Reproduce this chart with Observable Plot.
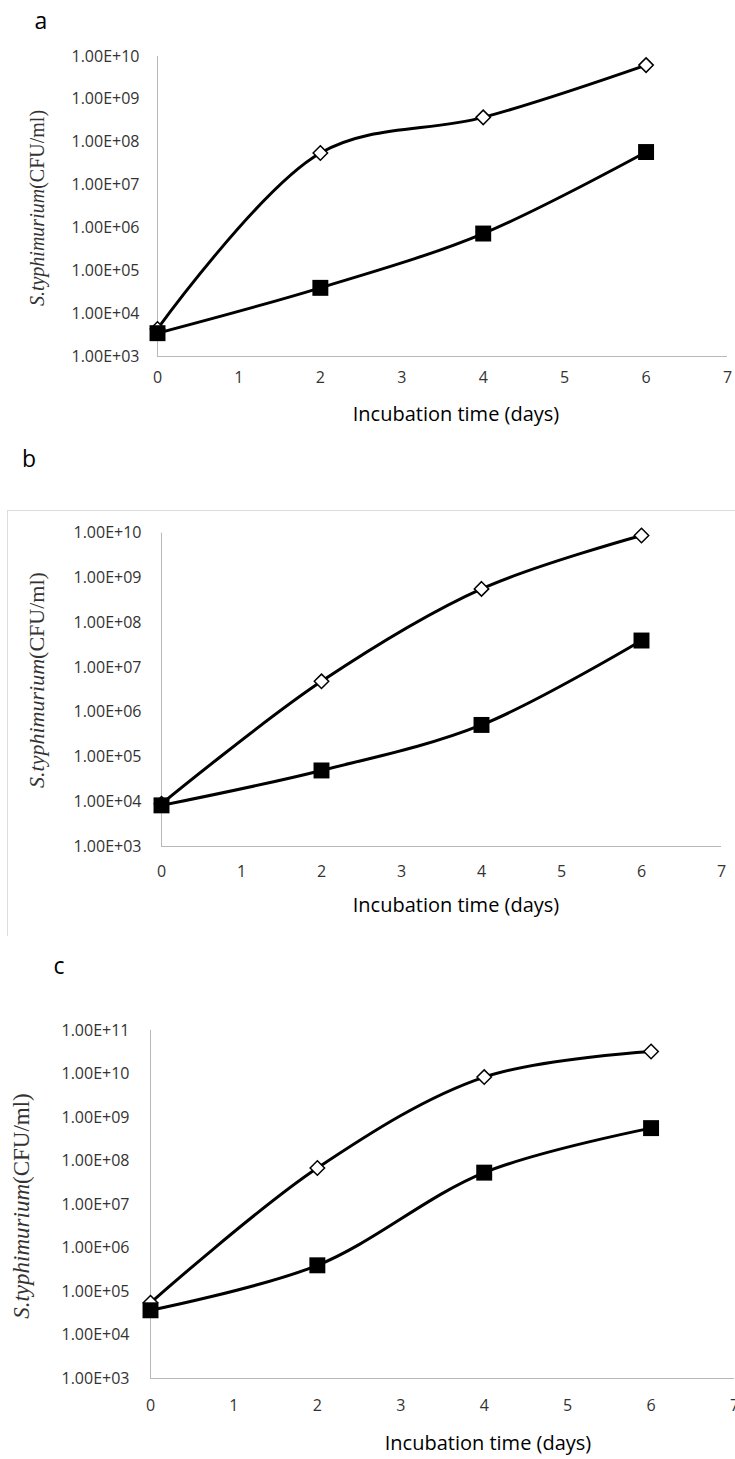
<!DOCTYPE html>
<html><head><meta charset="utf-8">
<script src="https://cdn.jsdelivr.net/npm/d3@7"></script>
<script src="https://cdn.jsdelivr.net/npm/@observablehq/plot@0.6"></script>
<style>
body{margin:0;background:#fff;}
#page{position:relative;width:735px;height:1459px;overflow:hidden;font-family:"Open Sans",Lato,sans-serif;}
.abs{position:absolute;white-space:nowrap;transform:translate(-50%,-50%);line-height:1;}
.plabel{font-size:23px;color:#000;}
.xtitle{font-size:20px;color:#000;}
.ytitle{font-family:"Liberation Serif","DejaVu Serif",serif;color:#333;transform:translate(-50%,-50%) rotate(-90deg);}
.svgwrap{position:absolute;left:0;}
.svgwrap svg text{font-family:"Open Sans",Lato,sans-serif;font-size:16px;fill:#333;}
.boxb{position:absolute;left:7px;top:510px;width:740px;height:425px;border-top:1px solid #dcdcdc;border-left:1px solid #dcdcdc;}
</style></head><body><div id="page"></div>
<script>
// x values (incubation days)
const days = [0, 2, 4, 6];
const xTicks = [0, 1, 2, 3, 4, 5, 6, 7];

// y tick values and labels
const yTicksAB = [1e3, 1e4, 1e5, 1e6, 1e7, 1e8, 1e9, 1e10];
const yLabelsAB = ["1.00E+03","1.00E+04","1.00E+05","1.00E+06","1.00E+07","1.00E+08","1.00E+09","1.00E+10"];
const yTicksC = [1e3, 1e4, 1e5, 1e6, 1e7, 1e8, 1e9, 1e10, 1e11];
const yLabelsC = ["1.00E+03","1.00E+04","1.00E+05","1.00E+06","1.00E+07","1.00E+08","1.00E+09","1.00E+10","1.00E+11"];

// series (CFU/ml), open diamond and filled square
const aDiamond = [4.4e3, 5.6e7, 3.8e8, 6.3e9];
const aSquare  = [3.5e3, 4.0e4, 7.4e5, 5.9e7];
const bDiamond = [9.0e3, 4.9e6, 5.7e8, 8.9e9];
const bSquare  = [8.3e3, 5.0e4, 5.2e5, 4.0e7];
const cDiamond = [5.5e4, 6.9e7, 8.5e9, 3.3e10];
const cSquare  = [3.7e4, 4.0e5, 5.4e7, 5.7e8];

const panelLetters = ["a", "b", "c"];
const xTitle = "Incubation time (days)";
const yTitleItalic = "S.typhimurium";
const yTitleRest = "(CFU/ml)";

const page = document.getElementById("page");

function addText(cls, text, x, y, extra) {
  const d = document.createElement("div");
  d.className = "abs " + cls;
  d.style.left = x + "px"; d.style.top = y + "px";
  if (extra) Object.assign(d.style, extra);
  if (typeof text === "string") d.textContent = text; else d.appendChild(text);
  page.appendChild(d);
  return d;
}
function yTitleNode() {
  const s = document.createElement("span");
  const i = document.createElement("i"); i.textContent = yTitleItalic;
  s.appendChild(i); s.appendChild(document.createTextNode(yTitleRest));
  return s;
}

function panel(o) {
  const rows = (vals) => days.map((d, i) => ({day: d, cfu: vals[i]}));
  const dia = rows(o.diamond), sq = rows(o.square);
  const lab = new Map(o.yTicks.map((t, i) => [t, o.yLabels[i]]));
  const svg = Plot.plot({
    width: 735, height: o.height,
    marginLeft: o.mLeft, marginRight: o.mRight, marginTop: o.mTop, marginBottom: o.mBottom,
    style: {background: "transparent", overflow: "visible"},
    x: {domain: [0, 7]},
    y: {type: "log", domain: [o.yTicks[0], o.yTicks[o.yTicks.length - 1]]},
    marks: [
      Plot.ruleX([0], {stroke: "#b8b8b8", strokeWidth: 1}),
      Plot.ruleY([o.yTicks[0]], {stroke: "#b8b8b8", strokeWidth: 1}),
      Plot.axisX({ticks: xTicks, tickFormat: d => String(d), tickSize: 0, tickPadding: o.xPad, label: null}),
      Plot.axisY({ticks: o.yTicks, tickFormat: d => lab.get(d), tickSize: 0, tickPadding: o.yPad, label: null}),
      Plot.line(dia, {x: "day", y: "cfu", curve: "catmull-rom", stroke: "#000", strokeWidth: 3}),
      Plot.dot(dia, {x: "day", y: "cfu", symbol: "diamond2", r: 6.5, fill: "#fff", stroke: "#000", strokeWidth: 1.5}),
      Plot.line(sq, {x: "day", y: "cfu", curve: "catmull-rom", stroke: "#000", strokeWidth: 3}),
      Plot.dot(sq, {x: "day", y: "cfu", symbol: "square", r: 9, fill: "#000", stroke: "none"})
    ]
  });
  const w = document.createElement("div");
  w.className = "svgwrap"; w.style.top = o.top + "px";
  w.appendChild(svg);
  page.appendChild(w);
}

// panel b frame
const box = document.createElement("div"); box.className = "boxb"; page.appendChild(box);

panel({top: 0, height: 440, mTop: 56, mBottom: 84, mLeft: 157, mRight: 8, xPad: 15, yPad: 18,
  yTicks: yTicksAB, yLabels: yLabelsAB, diamond: aDiamond, square: aSquare});
panel({top: 480, height: 460, mTop: 52.7, mBottom: 94, mLeft: 161, mRight: 14, xPad: 19, yPad: 20,
  yTicks: yTicksAB, yLabels: yLabelsAB, diamond: bDiamond, square: bSquare});
panel({top: 980, height: 479, mTop: 50, mBottom: 81, mLeft: 150, mRight: 1, xPad: 21, yPad: 21,
  yTicks: yTicksC, yLabels: yLabelsC, diamond: cDiamond, square: cSquare});

addText("plabel", panelLetters[0], 41, 20);
addText("plabel", panelLetters[1], 29, 458);
addText("plabel", panelLetters[2], 59, 965);
addText("xtitle", xTitle, 456, 414);
addText("xtitle", xTitle, 456, 905);
addText("xtitle", xTitle, 488, 1443);
addText("ytitle", yTitleNode(), 37, 208, {fontSize: "20px"});
addText("ytitle", yTitleNode(), 37, 680, {fontSize: "22px"});
addText("ytitle", yTitleNode(), 21, 1206, {fontSize: "23px"});
</script>
</body></html>
